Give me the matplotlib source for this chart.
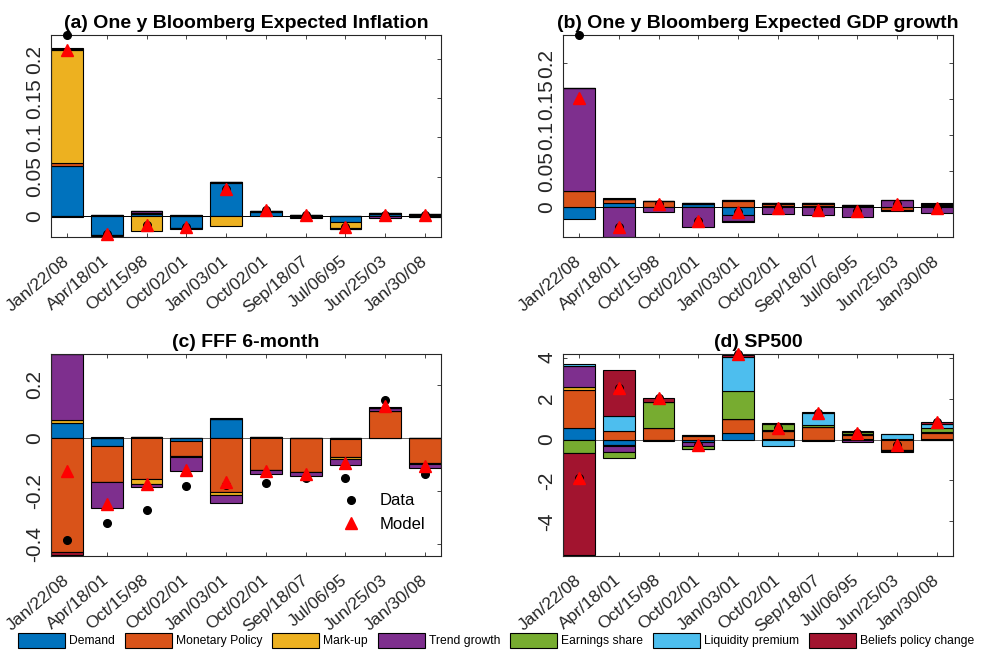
import numpy as np
import matplotlib
matplotlib.use("Agg")
import matplotlib.pyplot as plt
import matplotlib.transforms as mtransforms
from matplotlib import font_manager
from matplotlib.patches import Patch

plt.rcParams["font.family"] = ["Liberation Sans", "DejaVu Sans"]
plt.rcParams["axes.unicode_minus"] = False

# Event dates (same for all panels)
dates = ["Jan/22/08", "Apr/18/01", "Oct/15/98", "Oct/02/01", "Jan/03/01",
         "Oct/02/01", "Sep/18/07", "Jul/06/95", "Jun/25/03", "Jan/30/08"]

shock_names = ["Demand", "Monetary Policy", "Mark-up", "Trend growth",
               "Earnings share", "Liquidity premium", "Beliefs policy change"]
shock_colors = ["#0072BD", "#D95319", "#EDB120", "#7E2F8E",
                "#77AC30", "#4DBEEE", "#A2142F"]

# (a) One y Bloomberg expected inflation
infl_demand = [0.064, -0.024, 0.003, -0.015, 0.042, 0.0045, 0.001, -0.008, 0.002, 0.001]
infl_monpol = [0.003, 0.001, 0.001, 0.0005, 0.0008, 0.0008, -0.001, 0.0005, 0.001, 0.001]
infl_markup = [0.145, -0.0005, -0.019, -0.0008, -0.0123, 0.0005, 0.0005, -0.007, 0.0005, -0.0008]
infl_trend = [-0.0017, 0.0008, 0.0025, 0.0007, 0.001, 0.001, -0.0015, -0.001, -0.003, -0.001]
infl_earn = [0.0005, 0.0, 0.0, 0.0, 0.0, 0.0, 0.0, 0.0, 0.0, 0.0]
infl_liq = [0.0005, 0.0, 0.0, 0.0, 0.0, 0.0, 0.0, 0.0, 0.0, 0.0]
infl_belief = [0.0005, -0.0015, 0.0, -0.001, 0.0, 0.0, 0.0, -0.0005, 0.0, 0.0]
infl_data = [0.23, -0.0235, -0.011, -0.014, 0.034, 0.0075, 0.0015, -0.0135, 0.0015, 0.0015]
infl_model = [0.212, -0.0235, -0.011, -0.014, 0.034, 0.0075, 0.0015, -0.0135, 0.0015, 0.0015]

# (b) One y Bloomberg expected GDP growth
gdp_demand = [-0.016, 0.0056, 0.0005, 0.0046, -0.011, 0.0015, 0.0015, 0.0015, 0.0005, 0.0015]
gdp_monpol = [0.0226, 0.0056, 0.008, 0.0005, 0.0093, 0.0037, 0.0037, 0.001, -0.0036, 0.0025]
gdp_markup = [0.0005, 0.001, 0.0005, 0.001, 0.001, 0.001, 0.001, 0.001, 0.0005, 0.001]
gdp_trend = [0.142, -0.041, -0.006, -0.0278, -0.0085, -0.0093, -0.011, -0.013, 0.0093, -0.0074]
gdp_earn = [0.0, 0.0, 0.0, 0.0, 0.0, 0.0, 0.0, 0.0, 0.0, 0.0]
gdp_liq = [0.0, 0.0, 0.0, 0.0, 0.0, 0.0, 0.0, 0.0, 0.0, 0.0]
gdp_belief = [0.0005, 0.0005, 0.0005, 0.0005, -0.0005, 0.0005, 0.0005, 0.0005, -0.002, 0.0005]
gdp_data = [0.239, -0.027, 0.0046, -0.0185, -0.007, -0.0014, -0.003, -0.0046, 0.0046, -0.001]
gdp_model = [0.151, -0.027, 0.0046, -0.0185, -0.007, -0.0014, -0.003, -0.0046, 0.0046, -0.001]

# (c) FFF 6-month
fff_demand = [0.055, -0.03, 0.002, -0.0125, 0.071, 0.002, 0.001, -0.006, 0.001, -0.001]
fff_monpol = [-0.428, -0.135, -0.156, -0.0565, -0.205, -0.119, -0.1275, -0.065, 0.1, -0.095]
fff_markup = [0.013, -0.002, -0.018, -0.002, -0.01, -0.002, -0.002, -0.0065, 0.001, -0.002]
fff_trend = [0.247, -0.098, -0.012, -0.054, -0.029, -0.015, -0.013, -0.0225, 0.012, -0.0145]
fff_earn = [0.0, 0.0, 0.0, 0.0, 0.0, 0.0, 0.0, 0.0, 0.0, 0.0]
fff_liq = [0.0, 0.0, 0.0, 0.0, 0.0, 0.0, 0.0, 0.0, 0.0, 0.0]
fff_belief = [-0.012, 0.005, 0.003, 0.001, 0.002, 0.002, 0.0, 0.001, 0.0005, 0.0]
fff_data = [-0.384, -0.319, -0.269, -0.18, -0.177, -0.171, -0.152, -0.149, 0.141, -0.136]
fff_model = [-0.125, -0.249, -0.174, -0.119, -0.165, -0.124, -0.1375, -0.094, 0.119, -0.105]

# (d) SP500
sp_demand = [0.585, -0.28, -0.03, -0.13, 0.33, 0.03, -0.03, 0.02, 0.04, 0.02]
sp_monpol = [1.86, 0.41, 0.54, 0.16, 0.69, 0.37, 0.59, 0.21, -0.49, 0.31]
sp_markup = [0.13, -0.05, 0.03, 0.04, 0.0, 0.02, 0.02, 0.02, -0.02, 0.02]
sp_trend = [1.0, -0.27, -0.02, -0.17, 0.0, 0.03, -0.04, -0.13, -0.03, -0.01]
sp_earn = [-0.68, -0.3, 1.27, -0.15, 1.35, 0.33, 0.09, 0.11, -0.08, 0.23]
sp_liq = [0.13, 0.73, 0.0, 0.0, 1.66, -0.3, 0.59, 0.0, 0.22, 0.16]
sp_belief = [-4.96, 2.28, 0.21, -0.03, 0.12, 0.03, 0.05, 0.04, 0.02, 0.1]
sp_data = [-1.9, 2.54, 2.03, -0.28, 4.2, 0.54, 1.3, 0.33, -0.28, 0.86]
sp_model = [-1.9, 2.54, 2.03, -0.28, 4.2, 0.54, 1.3, 0.33, -0.28, 0.86]

AX_GRAY = "#262626"
W, H = 981, 650


def add_panel(fig, rect_px, title, parts, data, model, ylim, yticks, zero_color):
    """Stacked decomposition bars (MATLAB style) plus data/model markers."""
    left, top, right, bottom = rect_px
    ax = fig.add_axes([left / W, 1 - bottom / H, (right - left) / W, (bottom - top) / H])
    x = np.arange(1, len(dates) + 1)
    pos_base = np.zeros(len(x))
    neg_base = np.zeros(len(x))
    for vals, col in zip(parts, shock_colors):
        v = np.asarray(vals, dtype=float)
        base = np.where(v >= 0, pos_base, neg_base)
        ax.bar(x, v, 0.8, bottom=base, color=col, edgecolor="k", linewidth=0.8, zorder=2)
        pos_base += np.clip(v, 0, None)
        neg_base += np.clip(v, None, 0)
    ax.axhline(0, color=zero_color, lw=0.7, zorder=1)
    hd, = ax.plot(x, data, "o", color="k", ms=5.5, zorder=4, clip_on=False, label="Data")
    hm, = ax.plot(x, model, "^", color="red", ms=8, zorder=5, clip_on=False, label="Model")

    ax.set_xlim(0.6, 10.4)
    ax.set_ylim(*ylim)
    ax.set_yticks(yticks)
    ax.set_yticklabels(["%g" % t for t in yticks])
    ax.set_xticks(x)
    ax.set_xticklabels(dates, rotation=40, ha="right", va="center", rotation_mode="anchor")
    offset = mtransforms.ScaledTranslation(12.5 / 72, 0, fig.dpi_scale_trans)
    for lab in ax.get_xticklabels():
        lab.set_transform(lab.get_transform() + offset)
    ax.tick_params(axis="both", direction="in", length=3, width=0.6, color=AX_GRAY,
                   labelcolor=AX_GRAY, top=True, right=True)
    ax.tick_params(axis="x", labelsize=12.5, pad=16)
    ax.tick_params(axis="y", labelsize=15, pad=5, labelrotation=90)
    for lab in ax.get_yticklabels():
        lab.set_va("center")
    for sp in ax.spines.values():
        sp.set_color(AX_GRAY)
        sp.set_linewidth(0.8)
    ax.set_title(title, fontsize=14, fontweight="bold", pad=5)
    return ax, hd, hm


def main():
    fig = plt.figure(figsize=(W / 100, H / 100), dpi=100)

    add_panel(fig, (51, 35, 441, 237), "(a) One y Bloomberg Expected Inflation",
              [infl_demand, infl_monpol, infl_markup, infl_trend, infl_earn, infl_liq, infl_belief],
              infl_data, infl_model, (-0.0268, 0.2306), [0, 0.05, 0.1, 0.15, 0.2], "k")
    add_panel(fig, (563, 35, 953, 237), "(b) One y Bloomberg Expected GDP growth",
              [gdp_demand, gdp_monpol, gdp_markup, gdp_trend, gdp_earn, gdp_liq, gdp_belief],
              gdp_data, gdp_model, (-0.041, 0.239), [0, 0.05, 0.1, 0.15, 0.2], "k")
    ax_c, hd, hm = add_panel(fig, (51, 354, 441, 556), "(c) FFF 6-month",
                             [fff_demand, fff_monpol, fff_markup, fff_trend, fff_earn, fff_liq, fff_belief],
                             fff_data, fff_model, (-0.4436, 0.315), [-0.4, -0.2, 0, 0.2], "0.4")
    add_panel(fig, (563, 354, 953, 556), "(d) SP500",
              [sp_demand, sp_monpol, sp_markup, sp_trend, sp_earn, sp_liq, sp_belief],
              sp_data, sp_model, (-5.69, 4.18), [-4, -2, 0, 2, 4], "0.4")

    ax_c.legend(handles=[hd, hm], loc="upper left", bbox_to_anchor=(0.736, 0.31),
                frameon=False, fontsize=12, handlelength=1.5, handletextpad=1.0,
                borderpad=0, borderaxespad=0, labelspacing=0.5)

    # shock legend along the bottom
    names = {f.name for f in font_manager.fontManager.ttflist}
    if "Liberation Sans Narrow" in names:
        leg_family, leg_size = "Liberation Sans Narrow", 11
    else:
        leg_family, leg_size = "Liberation Sans", 8.7
    fs_px = leg_size * 100 / 72
    handles = [Patch(facecolor=c, edgecolor="k", linewidth=0.8, label=n)
               for n, c in zip(shock_names, shock_colors)]
    fig.legend(handles=handles, loc="lower left", bbox_to_anchor=(18 / W, 2 / H),
               ncol=len(handles), frameon=False,
               prop={"family": leg_family, "size": leg_size},
               handlelength=47 / fs_px, handleheight=19 / fs_px,
               handletextpad=4 / fs_px, columnspacing=10 / fs_px,
               borderpad=0, borderaxespad=0)

    fig.savefig("out.png", dpi=100)


if __name__ == "__main__":
    main()
